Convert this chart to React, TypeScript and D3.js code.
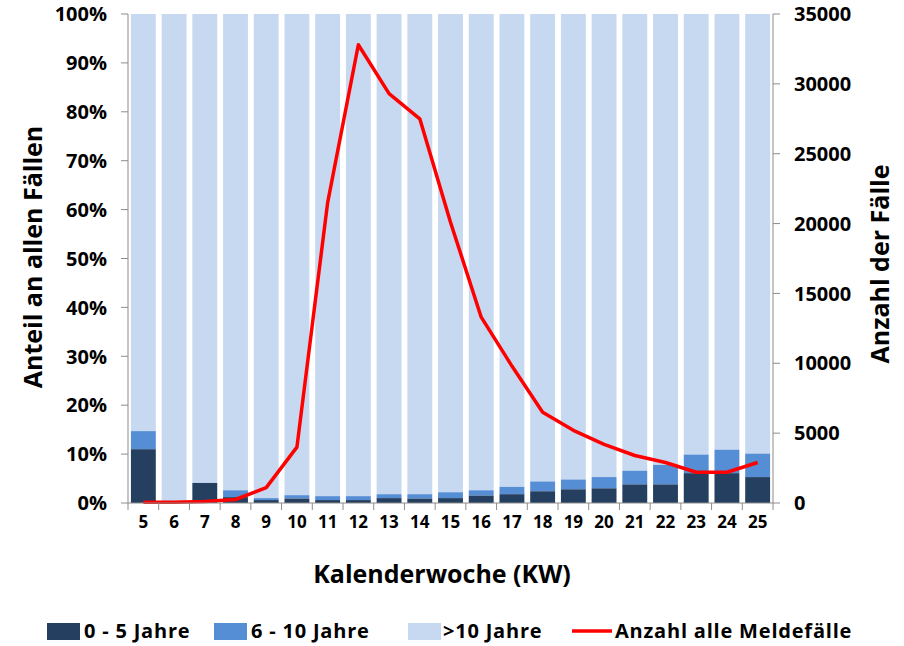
import React from "react";
import * as d3 from "d3";

const weeks = ["5","6","7","8","9","10","11","12","13","14","15","16","17","18","19","20","21","22","23","24","25"];
const age0to5 = [11.0,0,4.1,1.2,0.6,0.9,0.6,0.6,1.0,0.9,1.0,1.5,1.8,2.4,2.8,3.0,3.8,3.8,6.1,6.1,5.3];
const age6to10 = [3.7,0,0,1.4,0.4,0.7,0.8,0.8,0.8,0.9,1.2,1.1,1.5,2.0,2.0,2.3,2.8,4.0,3.8,4.8,4.8];
const totalCases = [50,50,100,250,1100,4000,21500,32800,29300,27500,20100,13300,9800,6500,5200,4200,3400,2900,2200,2200,2900];
const leftTicks = [0,10,20,30,40,50,60,70,80,90,100];
const rightTicks = [0,5000,10000,15000,20000,25000,30000,35000];

const W = 904, H = 646;
const M = { left: 128, right: 773, top: 14, bottom: 503 };
const C = { dark: "#243F60", mid: "#558ED5", light: "#C6D9F1", red: "#FF0000", axis: "#8C8C8C" };
const FONT = "'Open Sans', Lato, sans-serif";

export default function App() {
  const x = d3.scaleBand<string>().domain(weeks).range([M.left, M.right]).paddingInner(0.19).paddingOuter(0.095);
  const yL = d3.scaleLinear().domain([0, 100]).range([M.bottom, M.top]);
  const yR = d3.scaleLinear().domain([0, 35000]).range([M.bottom, M.top]);
  const step = x.step();
  const line = d3.line<number>().x((_, i) => (x(weeks[i]) as number) + x.bandwidth() / 2).y((d) => yR(d));

  const legend = [
    { type: "rect", color: C.dark, label: "0 - 5 Jahre", x0: 47, tx: 84 },
    { type: "rect", color: C.mid, label: "6 - 10 Jahre", x0: 214, tx: 251 },
    { type: "rect", color: C.light, label: ">10 Jahre", x0: 408, tx: 443 },
    { type: "line", color: C.red, label: "Anzahl alle Meldefälle", x0: 572, tx: 615 },
  ];
  const LY = 631;

  return (
    <svg width={W} height={H} style={{ position: "absolute", left: 0, top: 0 }} fontFamily={FONT}>
      <rect width={W} height={H} fill="#fff" />
      {weeks.map((w, i) => {
        const bx = x(w) as number;
        const bw = x.bandwidth();
        const d = age0to5[i], m = age6to10[i];
        return (
          <g key={w}>
            <rect x={bx} width={bw} y={yL(100)} height={yL(d + m) - yL(100)} fill={C.light} />
            <rect x={bx} width={bw} y={yL(d + m)} height={yL(d) - yL(d + m)} fill={C.mid} />
            <rect x={bx} width={bw} y={yL(d)} height={yL(0) - yL(d)} fill={C.dark} />
          </g>
        );
      })}
      <path d={line(totalCases) || ""} fill="none" stroke={C.red} strokeWidth={3.5} strokeLinejoin="round" />
      {/* left axis */}
      <line x1={M.left} x2={M.left} y1={M.top} y2={M.bottom} stroke={C.axis} />
      {leftTicks.map((t) => (
        <g key={t}>
          <line x1={M.left - 7} x2={M.left} y1={yL(t)} y2={yL(t)} stroke={C.axis} />
          <text x={M.left - 21} y={yL(t)} dy="0.36em" textAnchor="end" fontSize={20} fontWeight="bold" fill="#000">{t + "%"}</text>
        </g>
      ))}
      {/* right axis */}
      <line x1={M.right} x2={M.right} y1={M.top} y2={M.bottom} stroke={C.axis} />
      {rightTicks.map((t) => (
        <g key={t}>
          <line x1={M.right} x2={M.right + 7} y1={yR(t)} y2={yR(t)} stroke={C.axis} />
          <text x={M.right + 21} y={yR(t)} dy="0.36em" textAnchor="start" fontSize={20} fontWeight="bold" fill="#000">{t}</text>
        </g>
      ))}
      {/* x axis */}
      <line x1={M.left} x2={M.right} y1={M.bottom} y2={M.bottom} stroke={C.axis} />
      {d3.range(weeks.length + 1).map((i) => (
        <line key={i} x1={M.left + i * step} x2={M.left + i * step} y1={M.bottom} y2={M.bottom + 7} stroke={C.axis} />
      ))}
      {weeks.map((w) => (
        <text key={w} x={(x(w) as number) + x.bandwidth() / 2} y={M.bottom + 25} textAnchor="middle" fontSize={17} fontWeight="bold">{w}</text>
      ))}
      <text x={442} y={583} textAnchor="middle" fontSize={25} fontWeight="bold">Kalenderwoche (KW)</text>
      <text transform={`translate(42,257) rotate(-90)`} textAnchor="middle" fontSize={25} fontWeight="bold">Anteil an allen Fällen</text>
      <text transform={`translate(889,264) rotate(-90)`} textAnchor="middle" fontSize={25} fontWeight="bold">Anzahl der Fälle</text>
      {legend.map((l) => (
        <g key={l.label}>
          {l.type === "rect" ? (
            <rect x={l.x0} y={LY - 8} width={33} height={17} fill={l.color} />
          ) : (
            <line x1={l.x0} x2={l.x0 + 40} y1={LY} y2={LY} stroke={l.color} strokeWidth={3.5} />
          )}
          <text x={l.tx} y={LY} dy="0.36em" fontSize={20} fontWeight="bold" letterSpacing={0.8}>{l.label}</text>
        </g>
      ))}
    </svg>
  );
}
